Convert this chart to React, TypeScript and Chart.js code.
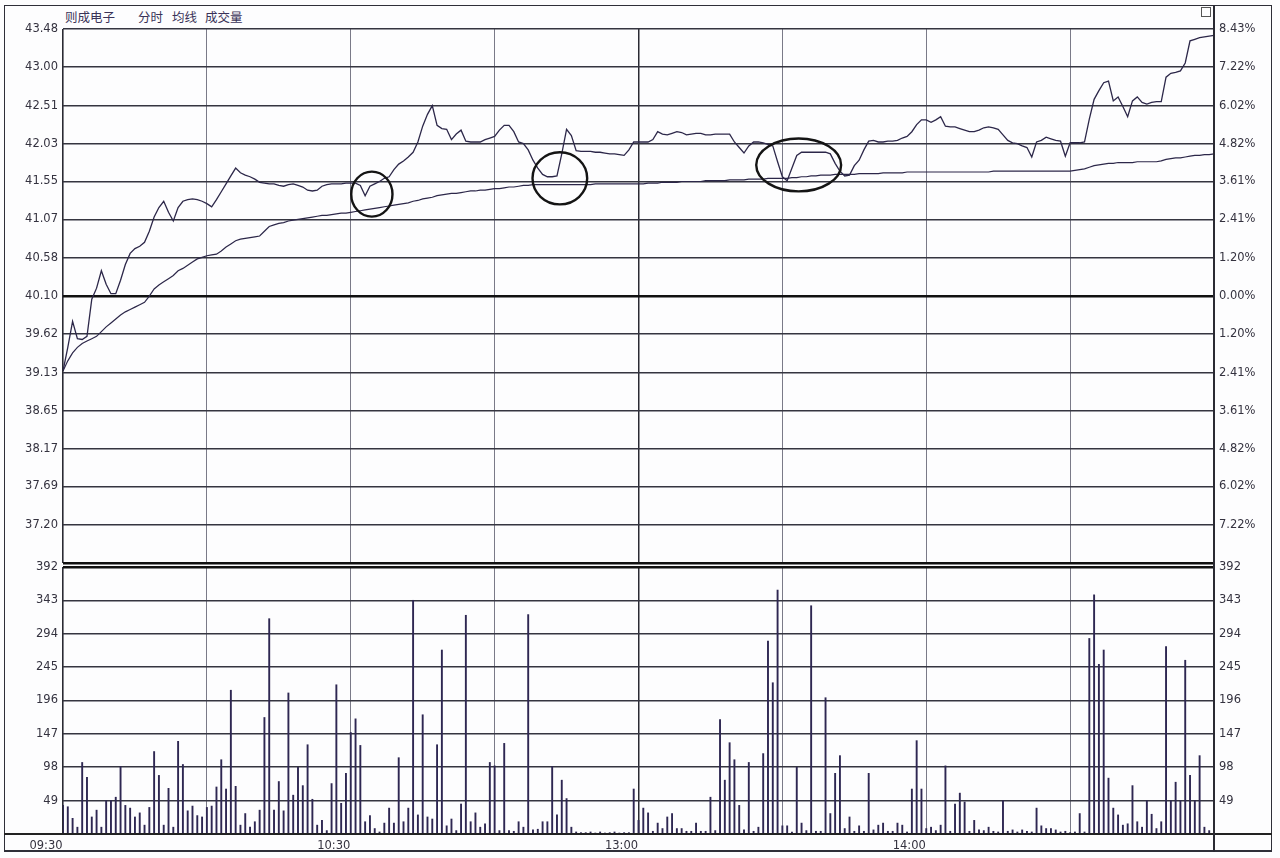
import React, { useEffect, useRef } from 'react';
import { Chart, registerables } from 'chart.js';

Chart.register(...registerables);

// ---------- data ----------
const TITLE_PARTS = ['则成电子', '分时', '均线', '成交量'];

const PREV_CLOSE = 40.1;

// minute-by-minute last price, 09:30 .. 15:00 (241 points)
const PRICE = [
  39.15, 39.45, 39.78, 39.56, 39.55, 39.59, 40.06, 40.2, 40.42, 40.25,
  40.13, 40.13, 40.3, 40.5, 40.64, 40.7, 40.73, 40.78, 40.92, 41.1,
  41.22, 41.3, 41.16, 41.05, 41.22, 41.3, 41.32, 41.33, 41.32, 41.3,
  41.27, 41.23, 41.32, 41.42, 41.52, 41.62, 41.72, 41.66, 41.63, 41.61,
  41.58, 41.54, 41.53, 41.52, 41.52, 41.5, 41.49, 41.51, 41.52, 41.5,
  41.48, 41.44, 41.43, 41.44, 41.49, 41.51, 41.52, 41.52, 41.52, 41.53,
  41.53, 41.53, 41.5, 41.37, 41.49, 41.52, 41.55, 41.59, 41.61, 41.7,
  41.77, 41.81, 41.86, 41.92, 42.05, 42.25, 42.4, 42.51, 42.26, 42.22,
  42.21, 42.08, 42.15, 42.2, 42.06, 42.05, 42.05, 42.05, 42.08, 42.1,
  42.12, 42.2, 42.26, 42.26, 42.18, 42.05, 42.03, 41.95, 41.82, 41.72,
  41.64, 41.61, 41.61, 41.62, 41.9, 42.21, 42.13, 41.94, 41.93, 41.93,
  41.93, 41.92, 41.92, 41.91, 41.9, 41.9, 41.89, 41.88, 41.95, 42.05,
  42.05, 42.05, 42.05, 42.08, 42.18, 42.15, 42.14, 42.16, 42.18, 42.17,
  42.14, 42.15, 42.16, 42.16, 42.14, 42.14, 42.15, 42.15, 42.15, 42.15,
  42.05, 41.98, 41.91, 42.0, 42.05, 42.05, 42.04, 42.02, 42.0, 41.8,
  41.61, 41.56, 41.72, 41.88, 41.92, 41.92, 41.92, 41.92, 41.92, 41.92,
  41.9, 41.78, 41.68, 41.62, 41.63, 41.75, 41.82, 41.95, 42.06, 42.07,
  42.05, 42.05, 42.06, 42.06, 42.07, 42.1, 42.12, 42.18, 42.27, 42.33,
  42.33, 42.3, 42.33, 42.37, 42.25, 42.24, 42.24, 42.22, 42.2, 42.18,
  42.18, 42.2, 42.23, 42.24, 42.23, 42.21, 42.14, 42.07, 42.04, 42.03,
  42.0, 41.98, 41.86, 42.05, 42.07, 42.11, 42.09, 42.07, 42.06, 41.87,
  42.04, 42.04, 42.04, 42.05, 42.34, 42.59, 42.7, 42.8, 42.82, 42.57,
  42.62, 42.5, 42.37, 42.57, 42.62, 42.55, 42.53, 42.55, 42.56, 42.56,
  42.87, 42.92, 42.93, 42.95, 43.05, 43.33, 43.35, 43.37, 43.38, 43.39, 43.4,
];

// minute-by-minute average price (均线)
const AVG = [
  39.15, 39.28, 39.38, 39.45, 39.5, 39.53, 39.56, 39.59, 39.65, 39.71,
  39.76, 39.81, 39.86, 39.9, 39.93, 39.96, 39.99, 40.02, 40.1, 40.19,
  40.24, 40.28, 40.32, 40.36, 40.42, 40.45, 40.49, 40.53, 40.57, 40.59,
  40.61, 40.62, 40.63, 40.67, 40.72, 40.76, 40.8, 40.82, 40.83, 40.84,
  40.85, 40.86, 40.92, 40.98, 41.0, 41.02, 41.03, 41.05, 41.06, 41.07,
  41.08, 41.09, 41.1, 41.11, 41.12, 41.12, 41.13, 41.14, 41.15, 41.15,
  41.16, 41.17, 41.18, 41.19, 41.2, 41.21, 41.22, 41.23, 41.24, 41.25,
  41.26, 41.27, 41.28, 41.3, 41.31, 41.33, 41.34, 41.35, 41.37, 41.38,
  41.39, 41.4, 41.4, 41.41, 41.42, 41.43, 41.43, 41.44, 41.44, 41.45,
  41.46, 41.46, 41.47, 41.48, 41.48, 41.49, 41.5, 41.5, 41.51, 41.51,
  41.51, 41.51, 41.51, 41.51, 41.51, 41.51, 41.51, 41.51, 41.51, 41.51,
  41.51, 41.52, 41.52, 41.52, 41.52, 41.52, 41.52, 41.52, 41.52, 41.52,
  41.52, 41.52, 41.53, 41.53, 41.53, 41.54, 41.54, 41.54, 41.54, 41.55,
  41.55, 41.55, 41.55, 41.55, 41.56, 41.56, 41.56, 41.56, 41.56, 41.57,
  41.57, 41.57, 41.57, 41.58, 41.58, 41.58, 41.58, 41.59, 41.59, 41.59,
  41.59, 41.59, 41.6, 41.6, 41.61, 41.61, 41.62, 41.62, 41.63, 41.63,
  41.63, 41.64, 41.64, 41.64, 41.64, 41.64, 41.65, 41.65, 41.65, 41.65,
  41.65, 41.66, 41.66, 41.66, 41.66, 41.66, 41.67, 41.67, 41.67, 41.67,
  41.67, 41.67, 41.67, 41.67, 41.67, 41.67, 41.67, 41.67, 41.67, 41.67,
  41.67, 41.67, 41.67, 41.67, 41.68, 41.68, 41.68, 41.68, 41.68, 41.68,
  41.68, 41.68, 41.68, 41.68, 41.68, 41.68, 41.68, 41.68, 41.68, 41.68,
  41.68, 41.69, 41.7, 41.71, 41.73, 41.75, 41.76, 41.77, 41.78, 41.78,
  41.79, 41.79, 41.79, 41.79, 41.8, 41.8, 41.8, 41.8, 41.8, 41.81,
  41.83, 41.84, 41.85, 41.85, 41.86, 41.87, 41.88, 41.88, 41.89, 41.89, 41.9,
];

// minute-by-minute volume (成交量)
const VOLUME = [
  42, 40, 23, 10, 105, 83, 25, 35, 10, 49,
  49, 54, 99, 42, 38, 25, 31, 13, 39, 121,
  86, 13, 67, 10, 136, 102, 34, 41, 27, 25,
  39, 41, 69, 109, 66, 211, 70, 13, 30, 10,
  18, 35, 171, 316, 35, 77, 34, 207, 57, 98,
  71, 131, 51, 13, 20, 5, 74, 219, 45, 89,
  149, 169, 130, 18, 27, 8, 3, 16, 38, 16,
  112, 18, 38, 343, 28, 175, 25, 22, 131, 270,
  12, 22, 5, 44, 321, 18, 31, 10, 15, 105,
  100, 5, 133, 5, 4, 18, 10, 322, 6, 7,
  18, 18, 99, 28, 79, 52, 10, 3, 2, 2,
  3, 1, 3, 1, 2, 3, 1, 2, 2, 66,
  20, 38, 31, 4, 16, 8, 25, 30, 8, 8,
  4, 4, 16, 4, 4, 54, 5, 168, 79, 134,
  109, 42, 6, 105, 4, 10, 118, 283, 222, 358,
  12, 12, 3, 98, 16, 5, 335, 4, 4, 200,
  30, 89, 115, 8, 25, 4, 12, 4, 89, 6,
  13, 16, 4, 4, 16, 13, 3, 66, 137, 66,
  8, 10, 5, 13, 100, 4, 44, 60, 47, 4,
  20, 6, 5, 10, 4, 3, 49, 4, 6, 3,
  6, 4, 3, 38, 12, 8, 8, 6, 3, 4,
  2, 3, 30, 3, 287, 351, 249, 270, 82, 38,
  28, 13, 15, 71, 18, 10, 49, 29, 8, 18,
  275, 49, 76, 49, 255, 86, 49, 115, 10, 5, 3,
];

const PRICE_TICKS = [43.48, 43.0, 42.51, 42.03, 41.55, 41.07, 40.58, 40.1, 39.62, 39.13, 38.65, 38.17, 37.69, 37.2, 36.72];
const PRICE_LABELS = ['43.48', '43.00', '42.51', '42.03', '41.55', '41.07', '40.58', '40.10', '39.62', '39.13', '38.65', '38.17', '37.69', '37.20', ''];
const PCT_LABELS = ['8.43%', '7.22%', '6.02%', '4.82%', '3.61%', '2.41%', '1.20%', '0.00%', '1.20%', '2.41%', '3.61%', '4.82%', '6.02%', '7.22%', ''];

const VOL_TICKS = [392, 343, 294, 245, 196, 147, 98, 49, 0];
const VOL_LABELS = ['392', '343', '294', '245', '196', '147', '98', '49', ''];

const TIME_GRID = [0, 30, 60, 90, 120, 150, 180, 210, 240];
const TIME_TICK_MINUTES = [0, 60, 120, 180];
const TIME_TICK_LABELS = ['09:30', '10:30', '13:00', '14:00'];

// annotation ellipses (in data units: minute / price)
const CIRCLE_MINUTE = [64.4, 103.6, 153.4];
const CIRCLE_PRICE = [41.39, 41.59, 41.76];
const CIRCLE_HALF_MINUTES = [4.3, 5.7, 8.85];
const CIRCLE_HALF_PRICE = [0.285, 0.33, 0.335];

// ---------- styles ----------
const LINE_COLOR = '#2c2749';
const BAR_COLOR = '#2e2752';
const GRID_H = '#353540';
const GRID_V = '#7a7a88';
const TICK_FONT = { family: 'DejaVu Sans', size: 11.5 };
const TICK_COLOR = '#34323f';

const near = (a: number, b: number) => Math.abs(a - b) < 1e-6;

const circlePlugin = {
  id: 'circles',
  afterDatasetsDraw(chart: any) {
    const { ctx, scales } = chart;
    const xs = scales.x;
    const ys = scales.y;
    ctx.save();
    ctx.strokeStyle = '#141414';
    ctx.lineWidth = 2.4;
    CIRCLE_MINUTE.forEach((m, i) => {
      const cx = xs.getPixelForValue(m);
      const cy = ys.getPixelForValue(CIRCLE_PRICE[i]);
      const rx = Math.abs(xs.getPixelForValue(m + CIRCLE_HALF_MINUTES[i]) - cx);
      const ry = Math.abs(ys.getPixelForValue(CIRCLE_PRICE[i] + CIRCLE_HALF_PRICE[i]) - cy);
      ctx.beginPath();
      ctx.ellipse(cx, cy, rx, ry, 0, 0, Math.PI * 2);
      ctx.stroke();
    });
    ctx.restore();
  },
};

const vGridColor = (c: any) => {
  const v = c.tick ? c.tick.value : -1;
  if (v === 0 || v === 240 || v === 120) return '#2a2a33';
  return GRID_V;
};
const vGridWidth = (c: any) => {
  const v = c.tick ? c.tick.value : -1;
  if (v === 0) return 1.6;
  if (v === 240) return 2;
  if (v === 120) return 1.5;
  return 1;
};

export default function App() {
  const priceRef = useRef<HTMLCanvasElement>(null);
  const volRef = useRef<HTMLCanvasElement>(null);

  useEffect(() => {
    const priceChart = new Chart(priceRef.current as HTMLCanvasElement, {
      type: 'line',
      data: {
        datasets: [
          {
            data: PRICE.map((p, i) => ({ x: i, y: p })),
            borderColor: LINE_COLOR,
            borderWidth: 1.3,
            pointRadius: 0,
            tension: 0,
            yAxisID: 'y',
          },
          {
            data: AVG.map((p, i) => ({ x: i, y: p })),
            borderColor: LINE_COLOR,
            borderWidth: 1.2,
            pointRadius: 0,
            tension: 0,
            yAxisID: 'y',
          },
        ],
      },
      options: {
        responsive: false,
        animation: false,
        events: [],
        layout: { padding: { left: 0, right: 0, top: 29, bottom: 10 } },
        plugins: { legend: { display: false }, tooltip: { enabled: false } },
        scales: {
          x: {
            type: 'linear',
            min: 0,
            max: 240,
            afterBuildTicks: (a: any) => {
              a.ticks = TIME_GRID.map((v) => ({ value: v }));
            },
            afterFit: (a: any) => {
              a.height = 0;
            },
            ticks: { display: false },
            grid: { drawTicks: false, color: vGridColor, lineWidth: vGridWidth },
            border: { display: false },
          },
          y: {
            type: 'linear',
            position: 'left',
            min: 36.72,
            max: 43.48,
            afterBuildTicks: (a: any) => {
              a.ticks = PRICE_TICKS.map((v) => ({ value: v }));
            },
            afterFit: (a: any) => {
              a.width = 63;
            },
            ticks: {
              callback: (_v: any, i: number) => PRICE_LABELS[i],
              padding: 5,
              font: TICK_FONT,
              color: TICK_COLOR,
            },
            grid: {
              drawTicks: false,
              color: (c: any) => (c.tick && (near(c.tick.value, PREV_CLOSE) || near(c.tick.value, 36.72)) ? '#111' : GRID_H),
              lineWidth: (c: any) => (c.tick && (near(c.tick.value, PREV_CLOSE) || near(c.tick.value, 36.72)) ? 2.6 : 1.5),
            },
            border: { display: false },
          },
          y2: {
            type: 'linear',
            position: 'right',
            min: 36.72,
            max: 43.48,
            afterBuildTicks: (a: any) => {
              a.ticks = PRICE_TICKS.map((v) => ({ value: v }));
            },
            afterFit: (a: any) => {
              a.width = 66;
            },
            ticks: {
              callback: (_v: any, i: number) => PCT_LABELS[i],
              padding: 5,
              font: TICK_FONT,
              color: TICK_COLOR,
            },
            grid: { display: false, drawTicks: false },
            border: { display: false },
          },
        },
      },
      plugins: [circlePlugin],
    } as any);

    const volChart = new Chart(volRef.current as HTMLCanvasElement, {
      type: 'bar',
      data: {
        datasets: [
          {
            data: VOLUME.map((v, i) => ({ x: i, y: v })),
            backgroundColor: BAR_COLOR,
            borderWidth: 0,
            barThickness: 1.25,
            yAxisID: 'y',
          },
        ],
      },
      options: {
        responsive: false,
        animation: false,
        events: [],
        layout: { padding: { left: 0, right: 0, top: 10, bottom: 0 } },
        plugins: { legend: { display: false }, tooltip: { enabled: false } },
        scales: {
          x: {
            type: 'linear',
            min: 0,
            max: 240,
            offset: false,
            afterBuildTicks: (a: any) => {
              a.ticks = TIME_GRID.map((v) => ({ value: v }));
            },
            afterFit: (a: any) => {
              a.height = 24;
            },
            ticks: {
              autoSkip: false,
              maxRotation: 0,
              padding: 5,
              labelOffset: -17,
              font: TICK_FONT,
              color: TICK_COLOR,
              callback: (v: any) => {
                const k = TIME_TICK_MINUTES.indexOf(Number(v));
                return k >= 0 ? TIME_TICK_LABELS[k] : '';
              },
            },
            grid: { drawTicks: false, offset: false, color: vGridColor, lineWidth: vGridWidth },
            border: { display: false },
          },
          y: {
            type: 'linear',
            position: 'left',
            min: 0,
            max: 392,
            afterBuildTicks: (a: any) => {
              a.ticks = VOL_TICKS.map((v) => ({ value: v }));
            },
            afterFit: (a: any) => {
              a.width = 63;
            },
            ticks: {
              callback: (_v: any, i: number) => VOL_LABELS[i],
              padding: 5,
              font: TICK_FONT,
              color: TICK_COLOR,
            },
            grid: {
              drawTicks: false,
              color: (c: any) => (c.tick && (c.tick.value === 392 || c.tick.value === 0) ? '#111' : GRID_H),
              lineWidth: (c: any) => (c.tick && c.tick.value === 392 ? 2.6 : c.tick && c.tick.value === 0 ? 2 : 1.5),
            },
            border: { display: false },
          },
          y2: {
            type: 'linear',
            position: 'right',
            min: 0,
            max: 392,
            afterBuildTicks: (a: any) => {
              a.ticks = VOL_TICKS.map((v) => ({ value: v }));
            },
            afterFit: (a: any) => {
              a.width = 66;
            },
            ticks: {
              callback: (_v: any, i: number) => VOL_LABELS[i],
              padding: 5,
              font: TICK_FONT,
              color: TICK_COLOR,
            },
            grid: { display: false, drawTicks: false },
            border: { display: false },
          },
        },
      },
    } as any);

    return () => {
      priceChart.destroy();
      volChart.destroy();
    };
  }, []);

  const headerLeft = [65, 138, 172, 205];

  return (
    <div
      style={{
        position: 'fixed',
        left: 0,
        top: 0,
        width: 1280,
        height: 858,
        background: '#fdfdfe',
        overflow: 'hidden',
      }}
    >
      {/* outer frame */}
      <div
        style={{
          position: 'absolute',
          left: 4,
          top: 5,
          width: 1268,
          height: 847,
          border: '1.5px solid #2f2f38',
          borderBottomWidth: 2.5,
          boxSizing: 'border-box',
        }}
      />
      {/* title */}
      {TITLE_PARTS.map((t, i) => (
        <span
          key={t}
          style={{
            position: 'absolute',
            left: headerLeft[i],
            top: 9,
            fontFamily: '"Noto Sans CJK SC", sans-serif',
            fontSize: 12.5,
            lineHeight: '15px',
            color: '#3a3358',
            whiteSpace: 'nowrap',
          }}
        >
          {t}
        </span>
      ))}
      {/* small icon at top right */}
      <div
        style={{
          position: 'absolute',
          left: 1201,
          top: 7,
          width: 10,
          height: 10,
          border: '1px solid #555',
          boxSizing: 'border-box',
        }}
      />
      <canvas
        ref={priceRef}
        width={1280}
        height={575}
        style={{ position: 'absolute', left: 0, top: 0, width: 1280, height: 575 }}
      />
      <canvas
        ref={volRef}
        width={1280}
        height={303}
        style={{ position: 'absolute', left: 0, top: 555, width: 1280, height: 303 }}
      />
      {/* full-width bottom rule and right divider */}
      <div style={{ position: 'absolute', left: 4, top: 833, width: 1268, height: 2, background: '#222' }} />
      <div style={{ position: 'absolute', left: 1213, top: 5, width: 2, height: 847, background: '#2a2a33' }} />
    </div>
  );
}
